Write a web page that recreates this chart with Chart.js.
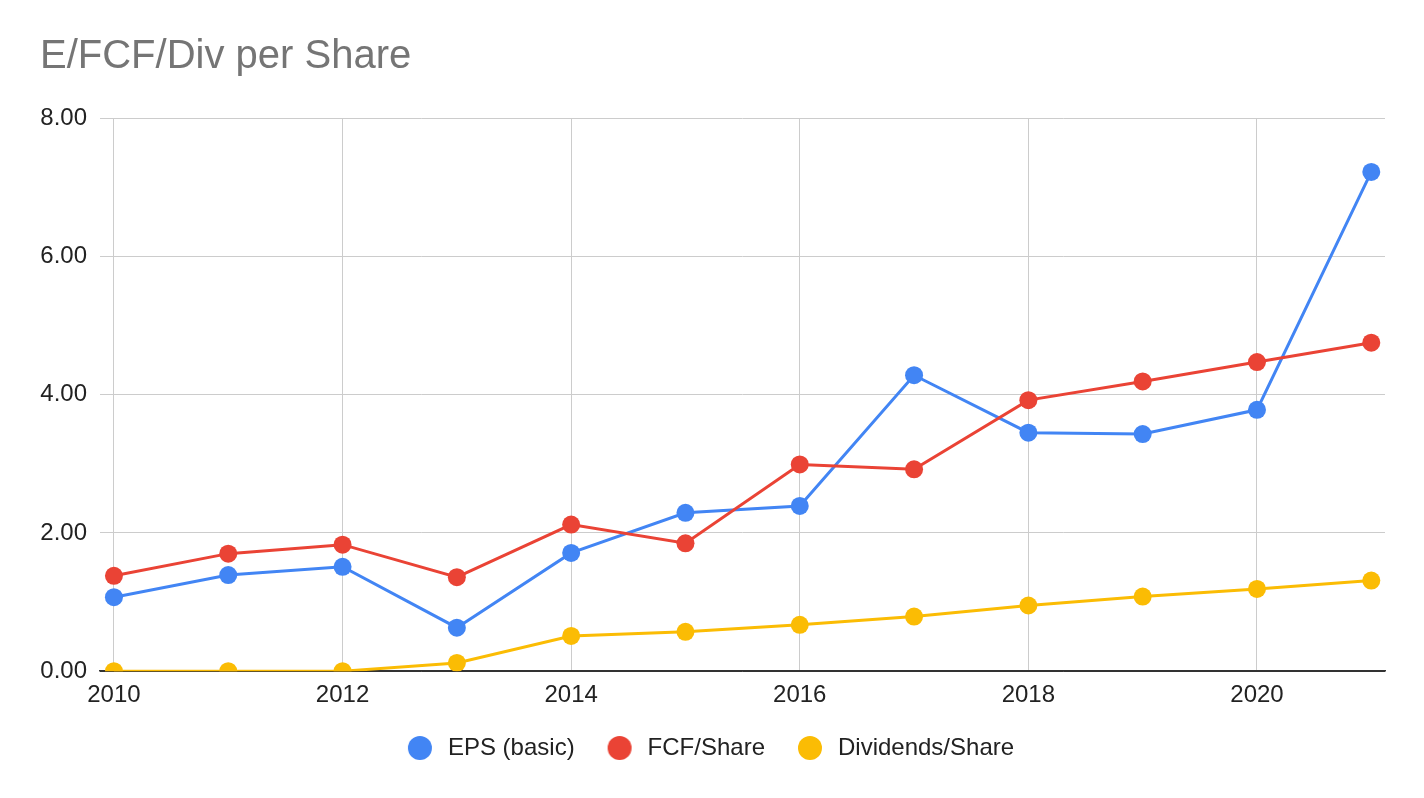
<!DOCTYPE html>
<html>
<head>
<meta charset="utf-8">
<title>E/FCF/Div per Share</title>
<script src="https://cdn.jsdelivr.net/npm/chart.js@4.4.1/dist/chart.umd.min.js"></script>
<style>
  html, body { margin: 0; padding: 0; background: #fff; }
  #wrap { width: 1424px; height: 798px; }
</style>
</head>
<body>
<div id="wrap"><canvas id="myChart"></canvas></div>
<script>
// data
var years = [2010, 2011, 2012, 2013, 2014, 2015, 2016, 2017, 2018, 2019, 2020, 2021];
var epsBasic = [1.07, 1.39, 1.51, 0.63, 1.71, 2.29, 2.39, 4.28, 3.45, 3.43, 3.78, 7.22];
var fcfShare = [1.38, 1.70, 1.83, 1.36, 2.12, 1.85, 2.99, 2.92, 3.92, 4.19, 4.47, 4.75];
var divShare = [0, 0, 0, 0.12, 0.51, 0.57, 0.67, 0.79, 0.95, 1.08, 1.19, 1.31];
var xTicks = [2010, 2012, 2014, 2016, 2018, 2020];
var yTicks = [0, 2, 4, 6, 8];

var toPoints = function (vals) {
  return vals.map(function (v, i) { return { x: years[i], y: v }; });
};

var makeSet = function (label, vals, color, order) {
  return {
    label: label,
    data: toPoints(vals),
    borderColor: color,
    backgroundColor: color,
    borderWidth: 3,
    pointRadius: 9,
    pointHoverRadius: 9,
    pointBorderWidth: 0,
    tension: 0,
    clip: 0,
    order: order
  };
};

// legend swatch: dot sits near the right side so the gap before the text is wider
var swatchW = 45;
var makeDot = function (color) {
  var c = document.createElement('canvas');
  c.width = swatchW;
  c.height = 24;
  var g = c.getContext('2d');
  g.fillStyle = color;
  g.beginPath();
  g.arc(swatchW - 16, 12, 12, 0, Math.PI * 2);
  g.fill();
  return c;
};

// nudge the legend a bit to the left, like the original
var legendNudge = {
  id: 'legendNudge',
  afterLayout: function (chart) {
    if (chart.legend) {
      chart.legend.left -= 10;
      chart.legend.right -= 10;
    }
  }
};

var ctx = document.getElementById('myChart');
var myChart = new Chart(ctx, {
  type: 'line',
  data: {
    datasets: [
      makeSet('EPS (basic)', epsBasic, '#4285F4', 3),
      makeSet('FCF/Share', fcfShare, '#EA4335', 2),
      makeSet('Dividends/Share', divShare, '#FBBC04', 1)
    ]
  },
  plugins: [legendNudge],
  options: {
    responsive: true,
    maintainAspectRatio: false,
    animation: false,
    layout: { padding: { left: 40, right: 39, top: 0, bottom: 28 } },
    plugins: {
      title: {
        display: true,
        text: 'E/FCF/Div per Share',
        align: 'start',
        color: '#757575',
        font: { family: "'Liberation Sans', Arial, sans-serif", size: 40, weight: 'normal' },
        padding: { top: 33, bottom: 37 }
      },
      legend: {
        position: 'bottom',
        labels: {
          usePointStyle: true,
          pointStyleWidth: swatchW,
          boxHeight: 24,
          padding: 16,
          color: '#222',
          font: { family: "'Liberation Sans', Arial, sans-serif", size: 24 },
          sort: function (a, b) { return a.datasetIndex - b.datasetIndex; },
          generateLabels: function (chart) {
            var items = Chart.defaults.plugins.legend.labels.generateLabels(chart);
            items.forEach(function (it) {
              it.pointStyle = makeDot(chart.data.datasets[it.datasetIndex].borderColor);
            });
            return items;
          }
        }
      },
      tooltip: { enabled: false }
    },
    scales: {
      x: {
        type: 'linear',
        min: 2009.878,
        max: 2021.12,
        afterBuildTicks: function (scale) {
          scale.ticks = xTicks.map(function (v) { return { value: v }; });
        },
        grid: { color: '#cccccc', lineWidth: 1, drawTicks: false },
        border: { display: true, color: '#333333', width: 1.5 },
        ticks: {
          color: '#222',
          padding: 10,
          maxRotation: 0,
          font: { family: "'Liberation Sans', Arial, sans-serif", size: 24 },
          callback: function (v) { return String(v); }
        }
      },
      y: {
        min: 0,
        max: 8,
        afterBuildTicks: function (scale) {
          scale.ticks = yTicks.map(function (v) { return { value: v }; });
        },
        afterFit: function (scale) { scale.width = 60; },
        grid: {
          drawTicks: false,
          lineWidth: 1,
          color: function (c) { return c.tick && c.tick.value === 0 ? '#333333' : '#cccccc'; }
        },
        border: { display: false },
        ticks: {
          color: '#222',
          padding: 13,
          font: { family: "'Liberation Sans', Arial, sans-serif", size: 24 },
          callback: function (v) { return Number(v).toFixed(2); }
        }
      }
    }
  }
});
</script>
</body>
</html>
